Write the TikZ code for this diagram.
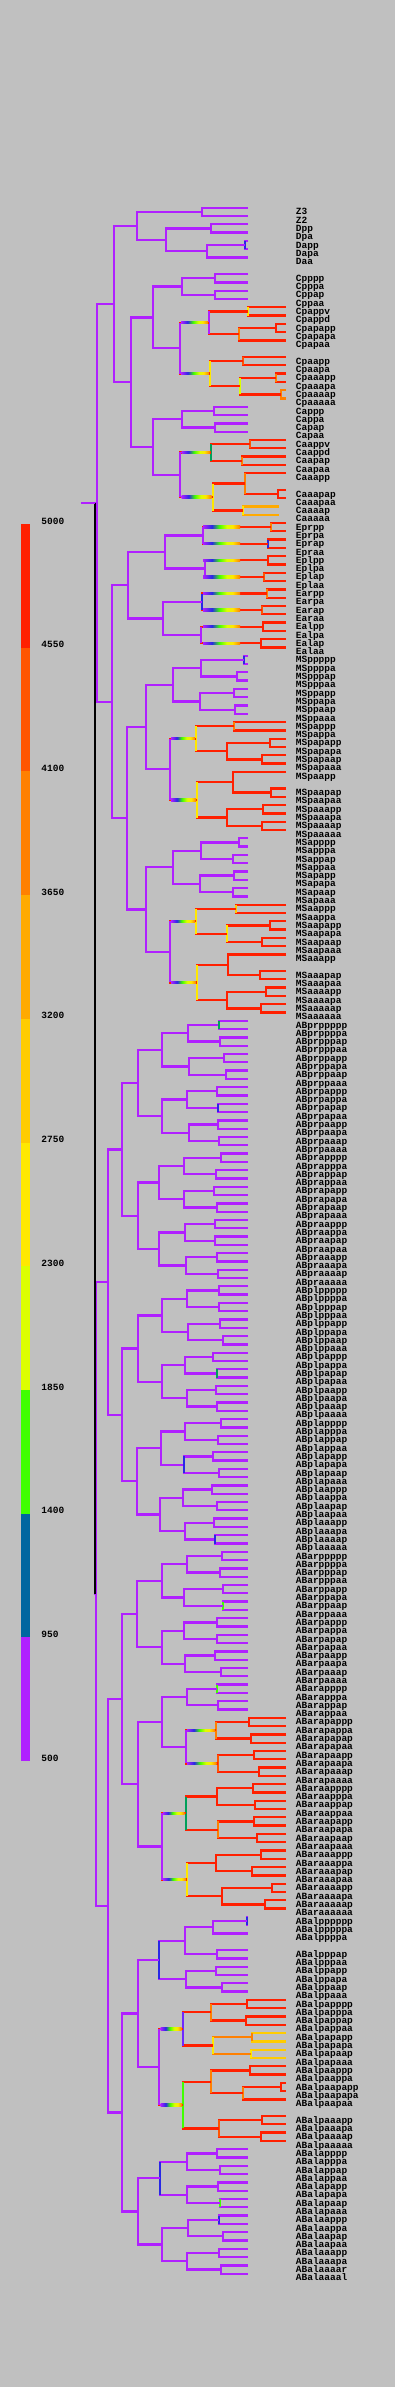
\documentclass[tikz,border=0pt]{standalone}
\usepackage{fontspec}
\setmonofont{Liberation Mono}
\usetikzlibrary{calc}

\definecolor{bg}{RGB}{192,192,192}
\definecolor{purp}{RGB}{176,32,255}
\definecolor{blu}{RGB}{0,102,160}
\definecolor{bblu}{RGB}{40,40,230}
\definecolor{vio}{RGB}{110,40,255}
\definecolor{teal}{RGB}{0,160,90}
\definecolor{grn}{RGB}{64,255,0}
\definecolor{ygrn}{RGB}{220,255,0}
\definecolor{ylw}{RGB}{255,232,0}
\definecolor{gold}{RGB}{255,204,0}
\definecolor{amb}{RGB}{255,170,0}
\definecolor{orn}{RGB}{255,128,0}
\definecolor{ored}{RGB}{255,85,0}
\definecolor{hred}{RGB}{255,32,0}

\pgfdeclarehorizontalshading{heat}{100bp}{color(0bp)=(purp); color(25bp)=(purp); color(37bp)=(bblu); color(47bp)=(grn); color(57bp)=(ygrn); color(65bp)=(ylw); color(75bp)=(orn); color(100bp)=(orn)}

\tikzset{
  tree/.style={line width=1.15pt},
  lab/.style={font=\ttfamily\bfseries\fontsize{4.75}{5}\selectfont, anchor=base west, inner sep=0pt},
}

% bracket: name, x, edge colour, bar colour, upper child, lower child
\newcommand\brk[6]{%
  \coordinate (#1-m) at ($(#5)!.5!(#6)$);
  \coordinate (#1) at (#2,0 |- #1-m);
  \draw[tree,color=#3] (#5) -| (#1) |- (#6);
  \draw[tree,color=#4] (#1 |- #5) -- (#1 |- #6);
}
\newcommand\cell[4]{\brk{#1}{#2}{#3}{#4}{#1p}{#1a}}
\newcommand\tint[2]{\draw[tree,color=#2] (#1 |- #1p) -- (#1 |- #1a);}
\newcommand\ramp[3]{\shade[shading=heat] ($(#2,0 |- #1)+(0,-1.15)$) rectangle ($(#3,0 |- #1)+(0,1.15)$);}

\begin{document}
\begin{tikzpicture}[x=0.5pt,y=-0.5pt]
\fill[bg] (0,0) rectangle (395,2387);

% colour key
\foreach \c [count=\i from 0] in {purp,blu,grn,ygrn,ylw,gold,amb,orn,ored,hred}
  \fill[color=\c] (21,{1761-\i*123.7}) rectangle (30,{1761-(\i+1)*123.7});
\foreach \v [count=\i from 0] in {500,950,1400,1850,2300,2750,3200,3650,4100,4550,5000}
  \node[lab,anchor=west] (key\v) at (41,{1758-\i*123.7}) {\v};

% leaves: name/row/end
\foreach \nm/\rw/\xe in {
  Z3/1/248, Z2/2/248, Dpp/3/248, Dpa/4/248, Dapp/5/248, Dapa/6/248, Daa/7/248,
  Cpppp/9/248, Cpppa/10/248, Cppap/11/248, Cppaa/12/248,
  Cpappv/13/286, Cpappd/14/286, Cpapapp/15/286, Cpapapa/16/286, Cpapaa/17/286,
  Cpaapp/19/286, Cpaapa/20/286, Cpaaapp/21/286, Cpaaapa/22/286, Cpaaaap/23/286, Cpaaaaa/24/286,
  Cappp/25/248, Cappa/26/248, Capap/27/248, Capaa/28/248,
  Caappv/29/286, Caappd/30/286, Caapap/31/286, Caapaa/32/286, Caaapp/33/286,
  Caaapap/35/286, Caaapaa/36/286, Caaaap/37/279, Caaaaa/38/279,
  Eprpp/39/286, Eprpa/40/286, Eprap/41/286, Epraa/42/286, Eplpp/43/286, Eplpa/44/286, Eplap/45/286, Eplaa/46/286,
  Earpp/47/286, Earpa/48/286, Earap/49/286, Earaa/50/286, Ealpp/51/286, Ealpa/52/286, Ealap/53/286, Ealaa/54/286,
  MSppppp/55/248, MSppppa/56/248, MSpppap/57/248, MSpppaa/58/248, MSppapp/59/248, MSppapa/60/248, MSppaap/61/248, MSppaaa/62/248,
  MSpappp/63/286, MSpappa/64/286, MSpapapp/65/286, MSpapapa/66/286, MSpapaap/67/286, MSpapaaa/68/286, MSpaapp/69/286,
  MSpaapap/71/286, MSpaapaa/72/286, MSpaaapp/73/286, MSpaaapa/74/286, MSpaaaap/75/286, MSpaaaaa/76/286,
  MSapppp/77/248, MSapppa/78/248, MSappap/79/248, MSappaa/80/248, MSapapp/81/248, MSapapa/82/248, MSapaap/83/248, MSapaaa/84/248,
  MSaappp/85/286, MSaappa/86/286, MSaapapp/87/286, MSaapapa/88/286, MSaapaap/89/286, MSaapaaa/90/286, MSaaapp/91/286,
  MSaaapap/93/286, MSaaapaa/94/286, MSaaaapp/95/286, MSaaaapa/96/286, MSaaaaap/97/286, MSaaaaaa/98/286,
  ABarppppp/163/248, ABarppppa/164/248, ABarpppap/165/248, ABarpppaa/166/248, ABarppapp/167/248, ABarppapa/168/248, ABarppaap/169/248, ABarppaaa/170/248,
  ABarpappp/171/248, ABarpappa/172/248, ABarpapap/173/248, ABarpapaa/174/248, ABarpaapp/175/248, ABarpaapa/176/248, ABarpaaap/177/248, ABarpaaaa/178/248,
  ABarapppp/179/248, ABarapppa/180/248, ABarappap/181/248, ABarappaa/182/248,
  ABarapappp/183/286, ABarapappa/184/286, ABarapapap/185/286, ABarapapaa/186/286, ABarapaapp/187/286, ABarapaapa/188/286, ABarapaaap/189/286, ABarapaaaa/190/286,
  ABaraapppp/191/286, ABaraapppa/192/286, ABaraappap/193/286, ABaraappaa/194/286, ABaraapapp/195/286, ABaraapapa/196/286, ABaraapaap/197/286, ABaraapaaa/198/286,
  ABaraaappp/199/286, ABaraaappa/200/286, ABaraaapap/201/286, ABaraaapaa/202/286, ABaraaaapp/203/286, ABaraaaapa/204/286, ABaraaaaap/205/286, ABaraaaaaa/206/286,
  ABalpppppp/207/248, ABalpppppa/208/248, ABalppppa/209/248, ABalpppap/211/248, ABalpppaa/212/248, ABalppapp/213/248, ABalppapa/214/248, ABalppaap/215/248, ABalppaaa/216/248,
  ABalpapppp/217/286, ABalpapppa/218/286, ABalpappap/219/286, ABalpappaa/220/286, ABalpapapp/221/286, ABalpapapa/222/286, ABalpapaap/223/286, ABalpapaaa/224/286,
  ABalpaappp/225/286, ABalpaappa/226/286, ABalpaapapp/227/286, ABalpaapapa/228/286, ABalpaapaa/229/286,
  ABalpaaapp/231/286, ABalpaaapa/232/286, ABalpaaaap/233/286, ABalpaaaaa/234/286,
  ABalapppp/235/248, ABalapppa/236/248, ABalappap/237/248, ABalappaa/238/248, ABalapapp/239/248, ABalapapa/240/248, ABalapaap/241/248, ABalapaaa/242/248,
  ABalaappp/243/248, ABalaappa/244/248, ABalaapap/245/248, ABalaapaa/246/248, ABalaaapp/247/248, ABalaaapa/248/248, ABalaaaar/249/248, ABalaaaal/250/248}
{
  \coordinate (\nm) at (\xe,{207.7+(\rw-1)*8.297});
  \node[lab] (\nm-l) at (295.5,{214.9+(\rw-1)*8.297}) {\nm};
}
% ABpr and ABpl leaves, 32 each
\foreach \pre/\base in {ABpr/99, ABpl/131}
 \foreach \sa/\ka in {p/0,a/16}
  \foreach \sb/\kb in {p/0,a/8}
   \foreach \sc/\kc in {p/0,a/4}
    \foreach \sd/\kd in {p/0,a/2}
     \foreach \se/\ke in {p/0,a/1}
{
  \pgfmathtruncatemacro\rw{\base+\ka+\kb+\kc+\kd+\ke}
  \coordinate (\pre\sa\sb\sc\sd\se) at (248,{207.7+(\rw-1)*8.297});
  \node[lab] (\pre\sa\sb\sc\sd\se-l) at (295.5,{214.9+(\rw-1)*8.297}) {\pre\sa\sb\sc\sd\se};
}

% P4 and D
\brk{P4}{201.7}{purp}{purp}{Z3}{Z2}
\foreach \nm/\xx/\ec/\vc in {Dp/211/purp/purp, Dap/245/purp/bblu, Da/206.7/purp/purp, D/165.7/purp/purp}
  {\cell{\nm}{\xx}{\ec}{\vc}}
\brk{P3}{137}{purp}{purp}{P4}{D}

% C
\foreach \nm/\xx in {Cppp/215, Cppa/215, Cpp/182, Capp/214, Capa/215, Cap/182}
  {\cell{\nm}{\xx}{purp}{purp}}
\brk{Cpapp}{248.3}{hred}{ylw}{Cpappv}{Cpappd}
\brk{Caapp}{250}{hred}{ored}{Caappv}{Caappd}
\foreach \nm/\xx/\ec/\vc in {Cpapap/276/hred/hred, Cpapa/239.3/hred/orn, Cpap/209/hred/purp,
  Cpaap/243.3/hred/ored, Cpaaap/276/hred/orn, Cpaaaa/280.7/orn/orn, Cpaaa/240/hred/ygrn, Cpaa/210/hred/ylw,
  Cpa/180/hred/purp, Cp/152.7/purp/purp,
  Caapa/242/hred/orn, Caap/211/hred/teal, Caaapa/278.3/hred/hred, Caaap/245/hred/orn, Caaaa/243/amb/ylw,
  Caaa/212.7/hred/ylw, Caa/180.3/hred/purp, Ca/152.7/purp/purp, C/130.7/purp/purp}
  {\cell{\nm}{\xx}{\ec}{\vc}}
\brk{P2}{114.3}{purp}{purp}{P3}{C}

% E
\foreach \nm/\xx/\vc in {Eprp/270.7/orn, Epra/268/bblu, Eplp/268/hred, Epla/263.7/ored,
  Earp/267/orn, Eara/261.7/ored, Ealp/263/hred, Eala/260.7/hred,
  Epr/202.7/purp, Epl/204.7/purp, Ear/201.7/bblu, Eal/201.3/purp}
  {\cell{\nm}{\xx}{hred}{\vc}}
\brk{Ep}{165}{purp}{purp}{Epr}{Epl}
\brk{Ea}{163}{purp}{purp}{Ear}{Eal}
\cell{E}{128}{purp}{purp}

% MS
\foreach \nm/\xx/\ec/\vc in {
  MSpppp/243.7/purp/bblu, MSpppa/237/purp/purp, MSppp/201/purp/purp, MSppap/234/purp/purp, MSppaa/234.7/purp/purp, MSppa/200/purp/purp, MSpp/173.3/purp/purp,
  MSpapp/234/hred/orn, MSpapap/270/hred/hred, MSpapaa/262/hred/hred, MSpapa/226.7/hred/hred, MSpap/196/hred/ylw,
  MSpaapa/270.7/hred/hred, MSpaap/232.7/hred/hred, MSpaaap/262.7/hred/hred, MSpaaaa/262/hred/hred, MSpaaa/226.7/hred/hred, MSpaa/197/hred/ylw,
  MSpa/170/hred/purp, MSp/146/purp/purp,
  MSappp/239.3/purp/purp, MSappa/233.3/purp/purp, MSapp/201/purp/purp, MSapap/234.3/purp/purp, MSapaa/232.7/purp/purp, MSapa/200/purp/purp, MSap/173.3/purp/purp,
  MSaapp/235.7/hred/gold, MSaapap/270/hred/hred, MSaapaa/262.3/hred/hred, MSaapa/226.7/hred/ylw, MSaap/196/hred/ylw,
  MSaaapa/260/hred/hred, MSaaap/227.7/hred/hred, MSaaaap/266/hred/hred, MSaaaaa/260.7/hred/hred, MSaaaa/226.7/hred/hred, MSaaa/197/hred/ylw,
  MSaa/170/hred/purp, MSa/146/purp/purp, MS/127/purp/purp}
  {\cell{\nm}{\xx}{\ec}{\vc}}
\brk{EMS}{111.7}{purp}{purp}{E}{MS}
\brk{P1}{96.7}{purp}{purp}{P2}{EMS}

% ABp
\foreach \nm/\xx in {
  ABprpppp/219, ABprpppa/220, ABprppap/224, ABprppaa/225.7, ABprpapp/216.7, ABprpapa/217.7, ABprpaap/218.3, ABprpaaa/219,
  ABprappp/221, ABprappa/215.7, ABprapap/213.7, ABprapaa/216.7, ABpraapp/214.7, ABpraapa/215, ABpraaap/216.7, ABpraaaa/218.3,
  ABplpppp/219, ABplpppa/219, ABplppap/220, ABplppaa/222.7, ABplpapp/212.7, ABplpapa/216.7, ABplpaap/215.7, ABplpaaa/216.7,
  ABplappp/220.7, ABplappa/217.7, ABplapap/213.3, ABplapaa/219, ABplaapp/211.7, ABplaapa/216.7, ABplaaap/214, ABplaaaa/215,
  ABprppp/187.7, ABprppa/188.7, ABprpap/186.7, ABprpaa/188.7, ABprapp/183.7, ABprapa/183.7, ABpraap/184.7, ABpraaa/185.7,
  ABplppp/186.7, ABplppa/187.7, ABplpap/184.7, ABplpaa/186.7, ABplapp/184.7, ABplapa/183.7, ABplaap/182.7, ABplaaa/184.7,
  ABprpp/161.7, ABprpa/161.7, ABprap/159.3, ABpraa/159.3, ABplpp/161.7, ABplpa/161.7, ABplap/160.7, ABplaa/159.7,
  ABprp/137.7, ABpra/137.7, ABplp/137.7, ABpla/136.7, ABpr/122, ABpl/122}
  {\cell{\nm}{\xx}{purp}{purp}}
\brk{ABp}{108.3}{purp}{purp}{ABpr}{ABpl}

% ABar
\foreach \nm/\xx/\ec/\vc in {
  ABarpppp/221.7/purp/purp, ABarpppa/220/purp/purp, ABarppap/223.3/purp/purp, ABarppaa/222.7/purp/grn,
  ABarpapp/216.7/purp/purp, ABarpapa/216.7/purp/purp, ABarpaap/214.7/purp/purp, ABarpaaa/220.7/purp/purp,
  ABarappp/216.7/purp/grn, ABarappa/218.3/purp/purp,
  ABarppp/187/purp/purp, ABarppa/184.3/purp/purp, ABarpap/184.3/purp/purp, ABarpaa/184.7/purp/purp, ABarapp/186.7/purp/purp,
  ABarapapp/249.3/hred/hred, ABarapapa/250.7/hred/hred, ABarapaap/253.7/hred/hred, ABarapaaa/259/hred/hred,
  ABarapap/216/hred/orn, ABarapaa/217.7/hred/ored, ABarapa/185.7/hred/purp,
  ABaraappp/253.3/hred/hred, ABaraappa/254.7/hred/hred, ABaraapap/253.7/hred/hred, ABaraapaa/257/hred/hred,
  ABaraaapp/260.7/hred/hred, ABaraaapa/252/hred/hred, ABaraaaap/272/hred/hred, ABaraaaaa/265/hred/hred,
  ABaraapp/216.7/hred/hred, ABaraapa/218.3/hred/orn, ABaraaap/215.7/hred/hred, ABaraaaa/221.7/hred/hred,
  ABaraap/185.7/hred/teal, ABaraaa/187/hred/ylw,
  ABarpp/161.7/purp/purp, ABarpa/161.7/purp/purp, ABarap/161.7/purp/purp, ABaraa/161.7/hred/purp,
  ABarp/137/purp/purp, ABara/137.7/purp/purp, ABar/122/purp/purp}
  {\cell{\nm}{\xx}{\ec}{\vc}}

% ABal
\brk{ABalppppp}{246.7}{purp}{bblu}{ABalpppppp}{ABalpppppa}
\brk{ABalaaaa}{221}{purp}{purp}{ABalaaaar}{ABalaaaal}
\foreach \nm/\xx/\ec/\vc in {
  ABalpppp/212.7/purp/purp, ABalpppa/217.3/purp/purp, ABalppp/185/purp/purp,
  ABalppap/216.3/purp/purp, ABalppaa/221.7/purp/purp, ABalppa/186/purp/purp, ABalpp/159.3/purp/bblu,
  ABalpappp/246.7/hred/hred, ABalpappa/245.7/hred/hred, ABalpapp/211.3/hred/orn,
  ABalpapap/251.7/gold/orn, ABalpapaa/250.7/gold/ylw, ABalpapa/213/orn/ylw, ABalpap/182.7/hred/vio,
  ABalpaapp/250/hred/hred, ABalpaapap/281/hred/hred, ABalpaapa/242.7/hred/orn, ABalpaap/210.7/hred/orn,
  ABalpaaap/262/hred/hred, ABalpaaaa/261/hred/hred, ABalpaaa/218.7/hred/ored, ABalpaa/183.3/hred/grn,
  ABalpa/159.3/hred/purp, ABalp/137.7/purp/purp,
  ABalappp/216.7/purp/purp, ABalappa/220/purp/purp, ABalapap/217.7/purp/purp, ABalapaa/220.3/purp/grn,
  ABalaapp/218.7/purp/bblu, ABalaapa/222.7/purp/purp, ABalaaap/218.7/purp/purp,
  ABalapp/187/purp/purp, ABalapa/186.7/purp/purp, ABalaap/187.7/purp/purp, ABalaaa/186.7/purp/purp,
  ABalap/160/purp/bblu, ABalaa/161.7/purp/purp, ABala/137.7/purp/purp, ABal/122/purp/purp}
  {\cell{\nm}{\xx}{\ec}{\vc}}
\brk{ABa}{107.7}{purp}{purp}{ABar}{ABal}
\cell{AB}{95.7}{purp}{purp}

% P0
\brk{P0}{95}{purp}{black}{P1}{AB}
\coordinate (root) at (81,0 |- P1);
\draw[tree,color=purp] (root) -- (P0 |- P1);

% odd bars
\tint{ABprpppp}{teal} \tint{ABprpapa}{bblu} \tint{ABplpapa}{teal} \tint{ABplapa}{bblu} \tint{ABplaaaa}{bblu}

% onset of expression
\ramp{Cpap}{181.2}{208} \ramp{Cpaa}{181.2}{209} \ramp{Caap}{181.5}{210} \ramp{Caaa}{181.5}{211.5}
\foreach \nm in {Eprp,Epra,Eplp,Epla,Earp,Eara,Ealp,Eala}
  {\ramp{\nm}{203}{240}}
\ramp{MSpap}{171.2}{195} \ramp{MSpaa}{171.2}{196} \ramp{MSaap}{171.2}{195} \ramp{MSaaa}{171.2}{196}
\ramp{ABarapap}{187}{215} \ramp{ABarapaa}{187}{216.5} \ramp{ABaraap}{163}{184.5} \ramp{ABaraaa}{163}{186}
\ramp{ABalpap}{160.5}{181.5} \ramp{ABalpaa}{160.5}{182}
\end{tikzpicture}
\end{document}
